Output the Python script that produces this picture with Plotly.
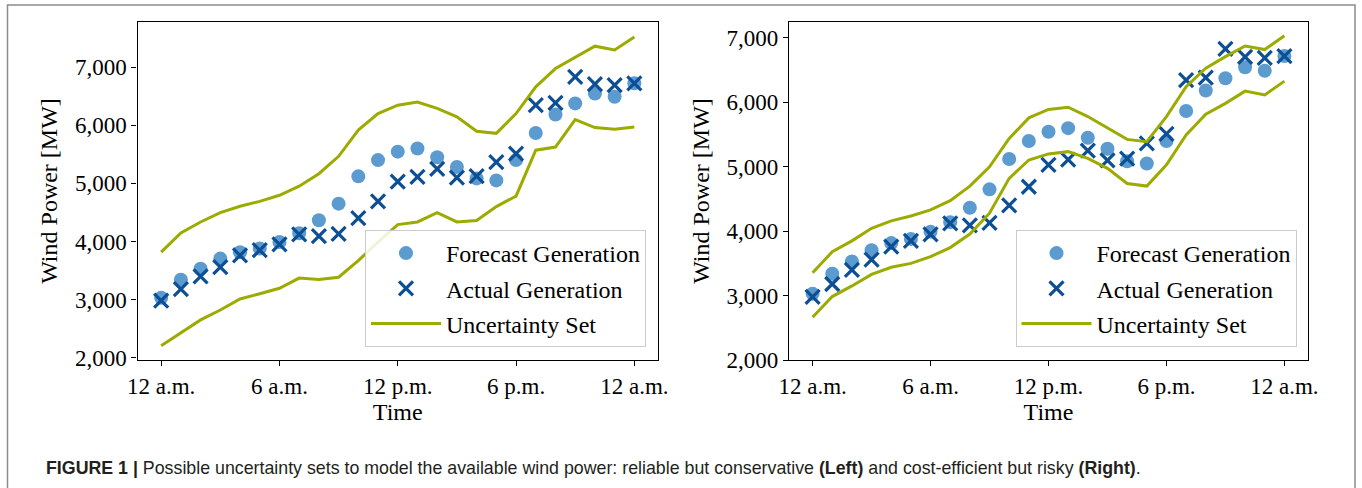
import plotly.graph_objects as go

hours = list(range(25))
tick_vals = [0, 6, 12, 18, 24]
tick_text = ["12 a.m.", "6 a.m.", "12 p.m.", "6 p.m.", "12 a.m."]
y_ticks = [2000, 3000, 4000, 5000, 6000, 7000]

forecast = [3030, 3340, 3530, 3705, 3815, 3880, 3990, 4140, 4365, 4650, 5120, 5400, 5545,
            5600, 5450, 5280, 5085, 5050, 5400, 5865, 6185, 6375, 6545, 6490, 6720]
actual = [2980, 3180, 3400, 3560, 3760, 3850, 3950, 4120, 4090, 4130, 4400, 4690, 5030,
          5110, 5250, 5100, 5125, 5365, 5510, 6345, 6385, 6830, 6705, 6690, 6720]

left_upper = [3815, 4145, 4335, 4495, 4605, 4690, 4795, 4950, 5165, 5465, 5915, 6200, 6345,
              6400, 6290, 6145, 5895, 5860, 6200, 6660, 6975, 7165, 7360, 7295, 7520]
left_lower = [2205, 2420, 2650, 2820, 3010, 3100, 3195, 3370, 3345, 3385, 3670, 3990, 4290,
              4335, 4495, 4335, 4360, 4600, 4780, 5570, 5625, 6095, 5960, 5930, 5970]
right_upper = [3355, 3680, 3850, 4045, 4160, 4235, 4330, 4475, 4700, 5000, 5440, 5760, 5890,
               5925, 5780, 5600, 5425, 5390, 5780, 6245, 6530, 6710, 6875, 6820, 7035]
right_lower = [2665, 2985, 3150, 3330, 3440, 3500, 3605, 3745, 3955, 4280, 4820, 5105, 5200,
               5235, 5130, 4975, 4740, 4700, 5030, 5495, 5815, 5985, 6175, 6115, 6330]

C_FC = "#5b9bd0"
C_AC = "#0d4f95"
C_UN = "#9cab00"
FONT = "Liberation Serif, Times New Roman, serif"

W, H = 1362, 488
fig = go.Figure()

panels = [
    ("x", "y", "legend", left_upper, left_lower),
    ("x2", "y2", "legend2", right_upper, right_lower),
]
for xa, ya, lg, up, lo in panels:
    fig.add_trace(go.Scatter(x=hours, y=forecast, mode="markers", name="Forecast Generation",
                             marker=dict(symbol="circle", size=14, color=C_FC),
                             xaxis=xa, yaxis=ya, legend=lg, legendgroup=lg + "a"))
    fig.add_trace(go.Scatter(x=hours, y=actual, mode="markers", name="Actual Generation",
                             marker=dict(symbol="x-thin", size=14, color=C_AC,
                                         line=dict(width=3.2, color=C_AC)),
                             xaxis=xa, yaxis=ya, legend=lg, legendgroup=lg + "b"))
    fig.add_trace(go.Scatter(x=hours, y=up, mode="lines", name="Uncertainty Set",
                             line=dict(color=C_UN, width=3),
                             xaxis=xa, yaxis=ya, legend=lg, legendgroup=lg + "c"))
    fig.add_trace(go.Scatter(x=hours, y=lo, mode="lines", name="Uncertainty Set",
                             line=dict(color=C_UN, width=3), showlegend=False,
                             xaxis=xa, yaxis=ya, legend=lg, legendgroup=lg + "c"))

def px_x(p):
    return p / W

def px_y(p):
    return 1 - p / H

axis_common = dict(showline=True, linecolor="black", linewidth=1.2, mirror=True,
                   ticks="outside", ticklen=5, tickwidth=1.2, tickcolor="black",
                   showgrid=False, zeroline=False, automargin=False,
                   tickfont=dict(family=FONT, size=23, color="black"))

ydom = [px_y(360), px_y(22)]
fig.update_layout(
    width=W, height=H,
    margin=dict(l=0, r=0, t=0, b=0, autoexpand=False),
    paper_bgcolor="white", plot_bgcolor="white",
    font=dict(family=FONT, size=24, color="black"),
    xaxis=dict(domain=[px_x(137.5), px_x(658)], range=[-1.2, 25.2],
               tickvals=tick_vals, ticktext=tick_text,
               title=dict(text="Time", font=dict(family=FONT, size=24), standoff=4),
               anchor="y", **axis_common),
    yaxis=dict(domain=ydom, range=[1960, 7776], tickvals=y_ticks, tickformat=",",
               title=dict(text="Wind Power [MW]", font=dict(family=FONT, size=24), standoff=10),
               anchor="x", **axis_common),
    xaxis2=dict(domain=[px_x(789), px_x(1308)], range=[-1.2, 25.2],
                tickvals=tick_vals, ticktext=tick_text,
                title=dict(text="Time", font=dict(family=FONT, size=24), standoff=4),
                anchor="y2", **axis_common),
    yaxis2=dict(domain=ydom, range=[2000, 7248], tickvals=y_ticks, tickformat=",",
                title=dict(text="Wind Power [MW]", font=dict(family=FONT, size=24), standoff=10),
                anchor="x2", **axis_common),
    legend=dict(x=px_x(646), y=px_y(347), xanchor="right", yanchor="bottom",
                bordercolor="#cccccc", borderwidth=1, bgcolor="rgba(255,255,255,0.85)",
                font=dict(family=FONT, size=24), itemwidth=70,
                traceorder="grouped", tracegroupgap=1),
    legend2=dict(x=px_x(1296.5), y=px_y(347), xanchor="right", yanchor="bottom",
                 bordercolor="#cccccc", borderwidth=1, bgcolor="rgba(255,255,255,0.85)",
                 font=dict(family=FONT, size=24), itemwidth=70,
                 traceorder="grouped", tracegroupgap=1),
    shapes=[dict(type="rect", xref="paper", yref="paper",
                 x0=px_x(7.5), x1=px_x(1355), y0=px_y(495), y1=px_y(5),
                 line=dict(color="#8c8c8c", width=1.5), fillcolor="rgba(0,0,0,0)",
                 layer="below")],
    annotations=[dict(
        text="<b>FIGURE 1 |</b> Possible uncertainty sets to model the available wind power: "
             "reliable but conservative <b>(Left)</b> and cost-efficient but risky <b>(Right)</b>.",
        xref="paper", yref="paper", x=px_x(44), y=px_y(468), xanchor="left", yanchor="middle",
        showarrow=False, font=dict(family="Liberation Sans, Arial, sans-serif", size=17.8, color="#231f20"))],
)

fig.write_html("out.html", config={"displayModeBar": False},
               post_script="document.body.style.margin='0';document.body.style.overflow='hidden';")
